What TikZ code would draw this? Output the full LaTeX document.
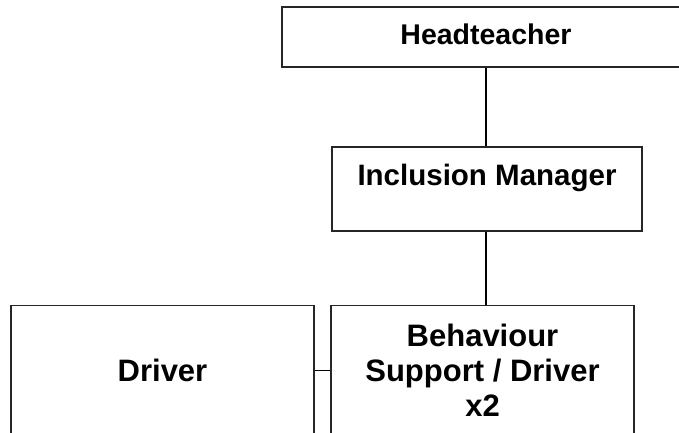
\documentclass[tikz,border=0pt]{standalone}
\usepackage{fontspec}
\setmainfont{Liberation Sans}
\begin{document}
\begin{tikzpicture}[x=1pt, y=1pt,
    post/.style={draw=black!85, line width=1.2pt, inner sep=0pt, font=\bfseries\fontsize{28.5}{34}\selectfont},
    lowpost/.style={post, anchor=north, minimum width=303pt, minimum height=130pt, align=center, font=\bfseries\fontsize{31}{35}\selectfont},
    link/.style={line width=1.2pt}]
    \path[use as bounding box, clip] (0,0) rectangle (679,432);
    \node[post, anchor=base, minimum width=408pt, text height=38pt, text depth=22pt] (head) at (486,387) {Headteacher};
    \node[post, anchor=base, minimum width=310pt, text height=38pt, text depth=46pt, font=\bfseries\fontsize{29.5}{34}\selectfont] (incl) at (487,247) {Inclusion Manager};
    \node[lowpost] (drv) at (162.5,127) {Driver};
    \node[lowpost] (beh) at (482.5,127) {Behaviour\\Support / Driver\\x2};
    \draw[link] (head.south -| 486,0) -- (incl.north -| 486,0);% head to manager
    \draw[link] (incl.south -| 486,0) -- (beh.north -| 486,0);% manager to support
    \draw[link] (drv.east) -- (beh.west);% driver link
\end{tikzpicture}
\end{document}
